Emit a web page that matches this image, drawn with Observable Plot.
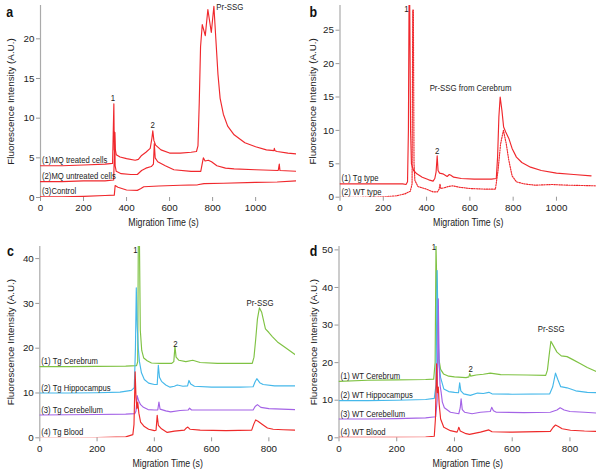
<!DOCTYPE html>
<html><head><meta charset="utf-8">
<script src="https://cdn.jsdelivr.net/npm/d3@7"></script>
<script src="https://cdn.jsdelivr.net/npm/@observablehq/plot@0.6"></script>
<style>
body{margin:0;background:#fff;}
#root{position:relative;width:602px;height:474px;overflow:hidden;background:#fff;}
#root svg{position:absolute;}
</style></head><body><div id="root"></div>
<script>
// ---------- Panel a ----------
const aNames = ["(1)MQ treated cells", "(2)MQ untreated cells", "(3)Control"];
const aTreated = [[0,4.0],[100,4.0],[200,4.1],[300,4.2],[335,4.3],[338,8],[341,11.8],[343,6],[345,8.2],[348,6],[352,5.4],[370,5.1],[400,4.9],[440,4.7],[455,4.8],[470,5.3],[490,5.7],[510,6.2],[518,7.5],[522,8.4],[527,7.2],[535,6.6],[560,6.0],[600,5.6],[650,5.6],[700,5.7],[725,5.8],[732,6.5],[738,12],[744,19],[752,21.8],[766,20.4],[778,23.7],[794,20.8],[806,24.1],[815,20],[825,15.5],[835,12.5],[850,10.5],[870,9.0],[900,7.9],[950,6.9],[1000,6.4],[1050,6.0],[1085,5.9],[1087,6.2],[1090,5.9],[1100,5.8],[1150,5.6],[1190,5.5]];
const aUntreated = [[0,2.0],[100,2.0],[200,2.1],[300,2.1],[340,2.2],[343,5],[345,8.2],[347,4],[352,3.3],[375,3.0],[420,2.9],[450,2.9],[470,3.4],[490,3.7],[515,3.9],[525,4.2],[529,6.8],[533,5.0],[545,4.5],[580,4.0],[620,3.5],[700,3.3],[745,3.3],[752,4.3],[757,5.0],[765,4.6],[780,4.7],[795,4.5],[820,4.0],[860,3.7],[900,3.6],[1000,3.5],[1105,3.4],[1110,4.2],[1113,3.4],[1190,3.3]];
const aControl = [[0,0.1],[100,0.1],[200,0.15],[300,0.25],[343,0.3],[347,1.5],[360,1.3],[400,0.95],[450,0.9],[465,1.1],[480,1.35],[550,1.45],[650,1.55],[730,1.6],[760,1.75],[850,1.8],[1000,1.9],[1100,1.95],[1190,2.1]];
const aAnnotText = ["1", "2", "Pr-SSG"];
const aAnnotT = [337, 522, 880];
const aAnnotV = [12.5, 9.2, 24.0];

// ---------- Panel b ----------
const bNames = ["(1) Tg type", "(2) WT type"];
const bTg = [[0,2.0],[100,2.0],[200,2.0],[290,2.0],[305,1.9],[312,2.3],[316,10],[319,29.5],[322,29.5],[326,10],[330,5],[340,4.0],[355,3.5],[380,3.0],[410,2.6],[430,2.4],[438,2.8],[444,3.8],[449,6.2],[453,4.0],[460,3.6],[475,3.5],[495,3.1],[505,3.4],[512,3.3],[525,3.0],[560,2.8],[620,2.7],[700,2.7],[722,2.8],[728,6],[734,12],[740,15.0],[748,13],[756,10.5],[765,9.8],[780,8.8],[795,7.3],[815,6.0],[840,5.2],[880,4.5],[930,4.0],[1000,3.6],[1080,3.4],[1160,3.2]];
const bWT = [[0,0],[100,0],[200,0.05],[260,0.2],[300,0.5],[325,0.9],[333,2],[336,28],[339,28],[342,5],[346,2.5],[360,1.6],[400,1.2],[430,0.8],[450,0.8],[458,1.2],[462,2.0],[466,1.3],[480,1.4],[500,1.6],[520,1.7],[550,1.5],[600,1.3],[680,1.2],[718,1.2],[730,4],[742,8],[755,10.0],[768,8],[780,5.5],[795,3.2],[815,2.3],[850,2.0],[900,1.8],[980,1.9],[1050,1.8],[1120,1.75],[1185,1.7]];
const bAnnotText = ["1", "2", "Pr-SSG from Cerebrum"];
const bAnnotT = [307, 449, 603];
const bAnnotV = [28.2, 6.9, 16.3];

// ---------- Panel c ----------
const cNames = ["(1) Tg Cerebrum", "(2) Tg Hippocampus", "(3) Tg Cerebellum", "(4) Tg Blood"];
const cCerebrum = [[0,15.9],[100,15.9],[200,15.95],[300,16.0],[338,16.1],[342,17],[344,44],[348,44],[351,24],[356,19.5],[363,17.8],[375,17.2],[390,16.7],[420,16.6],[460,16.6],[468,17],[472,20.4],[476,18],[486,17.3],[510,17.0],[534,17.3],[560,16.8],[620,16.6],[700,16.6],[742,16.6],[748,18],[754,22],[760,26.5],[767,29.0],[775,28],[788,24.3],[800,23.5],[812,22.6],[830,21.4],[856,20.2],[893,18.5]];
const cHippocampus = [[0,10.0],[100,10.0],[200,10.05],[280,10.2],[320,10.6],[330,11.2],[334,20],[337,33.5],[340,25],[344,20],[348,17],[355,14.5],[365,13],[380,12.2],[400,11.9],[410,11.9],[414,16.2],[418,13.5],[425,12.6],[440,11.8],[455,11.3],[470,11.5],[480,11.8],[500,11.5],[516,11.6],[521,12.8],[527,12.0],[540,11.5],[600,11.3],[700,11.3],[745,11.4],[752,12.5],[758,13.2],[768,12.3],[780,11.9],[820,11.6],[893,11.6]];
const cCerebellum = [[0,5.1],[100,5.15],[200,5.2],[300,5.3],[332,5.4],[336,6],[340,9.4],[345,8.3],[352,7.4],[362,6.8],[378,6.3],[400,6.2],[412,6.2],[416,8.0],[420,6.4],[440,6.0],[457,5.8],[490,6.1],[518,6.2],[523,6.6],[530,6.2],[560,6.2],[650,6.2],[745,6.2],[752,7.0],[760,7.4],[772,6.8],[800,6.5],[893,6.3]];
const cBlood = [[0,0],[100,0],[200,0.05],[300,0.2],[325,0.7],[329,3],[333,14.7],[336,9],[339,6.5],[342,8.0],[346,5.5],[352,3.5],[365,2.5],[380,1.9],[400,1.6],[406,1.7],[410,5.0],[414,2.8],[425,2.0],[445,1.2],[470,1.5],[505,1.7],[512,2.2],[517,2.4],[525,1.9],[560,1.7],[650,1.6],[740,1.7],[747,3.0],[754,4.0],[762,3.7],[775,3.1],[795,2.2],[815,1.9],[850,1.8],[893,1.7]];
const cAnnotText = ["1", "2", "Pr-SSG"];
const cAnnotT = [334, 474, 769];
const cAnnotV = [42.0, 21.0, 30.2];

// ---------- Panel d ----------
const dNames = ["(1) WT Cerebrum", "(2) WT Hippocampus", "(3) WT Cerebellum", "(4) WT Blood"];
const dCerebrum = [[0,15.0],[100,15.3],[200,15.4],[300,15.5],[328,15.6],[333,20],[336,51.5],[339,40],[342,28],[346,21],[352,18.2],[362,17.0],[380,16.4],[400,16.2],[440,16.0],[450,16.2],[453,17.1],[456,16.4],[475,16.7],[500,16.9],[524,17.2],[560,16.8],[650,16.7],[716,16.6],[722,18],[728,22],[734,25.7],[742,24.6],[755,22.8],[770,21.8],[790,21.6],[810,20.8],[835,19.8],[860,18.7],[892,17.6]];
const dHippocampus = [[0,9.9],[100,9.9],[200,10.0],[300,10.2],[330,10.5],[336,14],[340,44.5],[343,30],[346,20],[352,16],[363,13.0],[380,12.3],[400,12.1],[414,12.0],[418,14.6],[422,12.5],[432,11.7],[455,11.3],[480,11.9],[500,11.8],[519,12.1],[530,11.7],[600,11.6],[730,11.7],[740,13.5],[750,17.2],[758,15.5],[768,13.6],[790,13.3],[820,12.5],[860,12.1],[892,12.0]];
const dCerebellum = [[0,5.0],[100,5.0],[200,5.1],[300,5.3],[335,5.6],[340,10],[344,37],[347,20],[350,14],[354,12],[358,9.5],[365,8.0],[386,6.8],[415,6.4],[420,8],[423,10.4],[427,7.5],[435,6.8],[461,6.4],[490,6.8],[524,7.0],[529,8.1],[535,7.2],[545,6.8],[640,6.7],[732,6.8],[755,7.4],[766,8.0],[780,7.4],[800,7.0],[850,6.8],[892,6.6]];
const dBlood = [[0,0.1],[100,0.1],[200,0.1],[300,0.2],[330,0.4],[334,5],[338,19.7],[341,12],[344,13.5],[347,9],[352,5.0],[363,2.8],[386,1.9],[409,1.5],[413,2.3],[415,2.8],[420,1.8],[440,1.1],[452,0.9],[490,1.5],[519,2.1],[530,1.6],[600,1.5],[732,1.7],[742,2.8],[750,3.4],[760,3.0],[773,2.4],[802,2.0],[850,1.8],[892,1.7]];
const dAnnotText = ["1", "2", "Pr-SSG"];
const dAnnotT = [329, 456, 735];
const dAnnotV = [50.7, 18.4, 29.0];

const xTicksLong = [0, 200, 400, 600, 800, 1000];
const xTicksShort = [0, 200, 400, 600, 800];
const xTitle = "Migration Time (s)";
const yTitle = "Fluorescence Intensity (A.U.)";

// Horizontal labels in the original use a condensed face; emulate by squeezing them horizontally.
const SQ = 0.8;
const FONT = '"Liberation Sans",Arial,"DejaVu Sans",sans-serif';
const INK = "#222";
const root = document.getElementById("root");
const fmt = d3.format("d");

function squeeze(svg) {
  svg.querySelectorAll('g[aria-label="text"] text').forEach(t => {
    let tr = t.getAttribute("transform");
    if (tr && tr.includes("rotate")) return;
    if (!tr) {
      const x = +(t.getAttribute("x") || 0), y = +(t.getAttribute("y") || 0);
      t.removeAttribute("x"); t.removeAttribute("y");
      tr = `translate(${x},${y})`;
    }
    t.setAttribute("transform", tr + ` scale(${SQ},1)`);
  });
}

function panel(o) {
  const marks = [
    Plot.ruleX([0], {stroke: "#aaaaaa", strokeWidth: 1.2}),
    Plot.axisY({ticks: o.yTicks, tickFormat: fmt, tickSize: 4, tickPadding: 2, stroke: "#999", fill: INK, label: null, fontSize: 9.8}),
    Plot.axisX({ticks: o.xTicks, tickFormat: fmt, tickSize: 4, tickPadding: 3, stroke: "#999", fill: INK, label: null, fontSize: 9.8})
  ];
  o.series.forEach((s, i) => {
    marks.push(Plot.line(s, {x: d => d[0], y: d => d[1], stroke: o.colors[i], strokeWidth: 1.15,
      strokeDasharray: o.dashes ? o.dashes[i] : undefined, clip: true}));
  });
  const lab = o.names.map((n, i) => ({n, v: o.series[i][0][1]}));
  marks.push(Plot.text(lab, {x: () => 0, y: "v", text: "n", textAnchor: "start", lineAnchor: "middle",
    dx: 1.5, dy: -5.5, fontSize: 9.6, fill: INK}));
  const ann = o.annText.map((t, i) => ({t, x: o.annT[i], y: o.annV[i]}));
  marks.push(Plot.text(ann, {x: "x", y: "y", text: "t", textAnchor: "middle", lineAnchor: "middle", fontSize: 9.8, fill: INK}));
  marks.push(Plot.text([xTitle], {text: d => d, frameAnchor: "bottom", textAnchor: "middle", lineAnchor: "middle",
    dx: o.xTitleDx || 0, dy: o.xTitleDy, fontSize: 11, fill: INK}));
  marks.push(Plot.text([yTitle], {text: d => d, frameAnchor: "left", textAnchor: "middle", lineAnchor: "middle",
    rotate: -90, dx: o.yTitleDx, fontSize: 9.8, fill: INK}));
  marks.push(Plot.text([o.letter], {text: d => d, frameAnchor: "top-left", textAnchor: "middle", lineAnchor: "middle",
    dx: o.letterDx, dy: o.letterDy, fontSize: 15.5, fontWeight: "bold", fill: "#111"}));
  const svg = Plot.plot({
    width: 301, height: 237,
    marginLeft: o.m[0], marginRight: o.m[1], marginTop: o.m[2], marginBottom: o.m[3],
    x: {domain: o.xDomain},
    y: {domain: o.yDomain},
    style: {fontFamily: FONT, fontSize: "9.8px", color: INK, background: "transparent", overflow: "visible"},
    marks
  });
  squeeze(svg);
  svg.style.left = o.left + "px";
  svg.style.top = o.top + "px";
  root.appendChild(svg);
}

const redA = "#f0282d";
panel({left: 0, top: 0, m: [40, 5, 5, 40], xDomain: [0, 1190], yDomain: [0, 24.2],
  xTicks: xTicksLong, yTicks: [0, 5, 10, 15, 20],
  series: [aTreated, aUntreated, aControl], colors: [redA, redA, redA], names: aNames,
  annText: aAnnotText, annT: aAnnotT, annV: aAnnotV,
  xTitleDx: -5, xTitleDy: 24.7, yTitleDx: -30, letter: "a", letterDx: -30.7, letterDy: 6.7});

panel({left: 301, top: 0, m: [38.5, 6, 5, 40.3], xDomain: [0, 1185], yDomain: [0, 28.7],
  xTicks: xTicksLong, yTicks: [0, 5, 10, 15, 20, 25],
  series: [bTg, bWT], colors: [redA, redA], dashes: [undefined, "1.3,1.2"], names: bNames,
  annText: bAnnotText, annT: bAnnotT, annV: bAnnotV,
  xTitleDy: 25, yTitleDx: -27, letter: "b", letterDx: -26.8, letterDy: 6.7});

const cGreen = "#7fc243", cBlue = "#45b8ea", cPurple = "#a463e6", cRed = "#ee2a2a";
panel({left: 0, top: 237, m: [39.3, 6, 9, 36.7], xDomain: [0, 893], yDomain: [0, 42.7],
  xTicks: xTicksShort, yTicks: [0, 10, 20, 30, 40],
  series: [cCerebrum, cHippocampus, cCerebellum, cBlood], colors: [cGreen, cBlue, cPurple, cRed], names: cNames,
  annText: cAnnotText, annT: cAnnotT, annV: cAnnotV,
  xTitleDy: 26, yTitleDx: -29.3, letter: "c", letterDx: -29.3, letterDy: 4.7});

panel({left: 301, top: 237, m: [37.5, 6, 9, 36.7], xDomain: [0, 892], yDomain: [0, 50.9],
  xTicks: xTicksShort, yTicks: [0, 10, 20, 30, 40, 50],
  series: [dCerebrum, dHippocampus, dCerebellum, dBlood], colors: [cGreen, cBlue, cPurple, cRed], names: dNames,
  annText: dAnnotText, annT: dAnnotT, annV: dAnnotV,
  xTitleDy: 26, yTitleDx: -25, letter: "d", letterDx: -25.5, letterDy: 4.7});
</script></body></html>
